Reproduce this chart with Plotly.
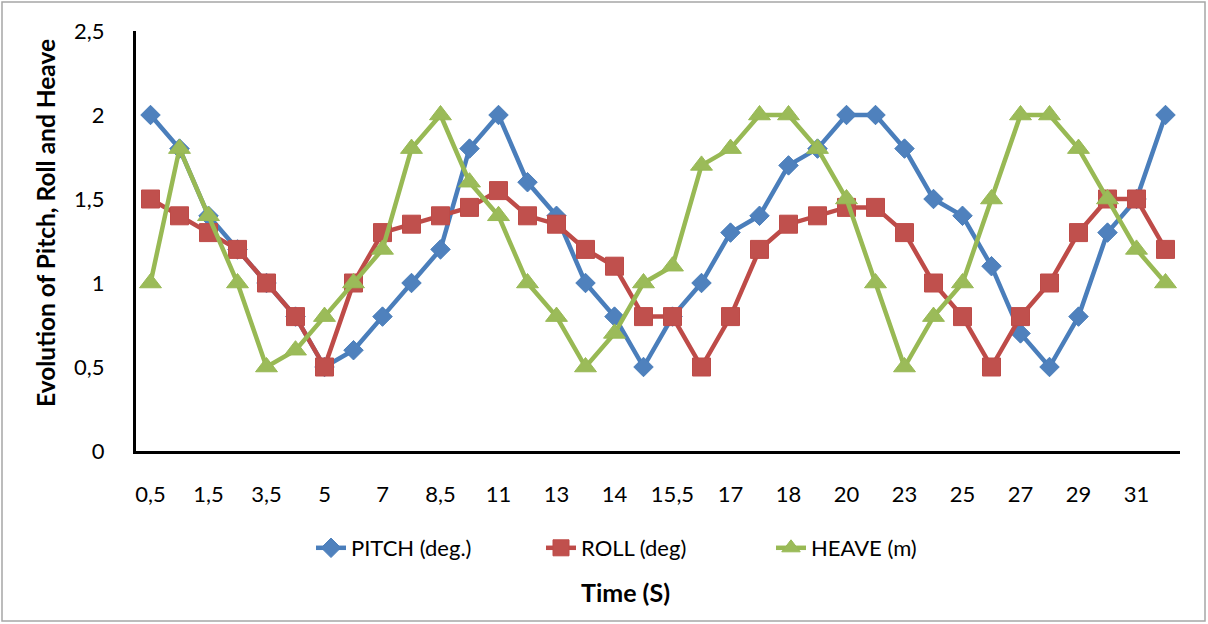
import plotly.graph_objects as go

# Time categories (only every other label is displayed on the axis)
time_labels = ["0,5", "1", "1,5", "2,5", "3,5", "4", "5", "6", "7", "7,5",
               "8,5", "10", "11", "12", "13", "13,5", "14", "14,5", "15,5", "16",
               "17", "17,5", "18", "19", "20", "21", "23", "24", "25", "26",
               "27", "28", "29", "30", "31", "32"]

pitch = [2.0, 1.8, 1.4, 1.2, 1.0, 0.8, 0.5, 0.6, 0.8, 1.0,
         1.2, 1.8, 2.0, 1.6, 1.4, 1.0, 0.8, 0.5, 0.8, 1.0,
         1.3, 1.4, 1.7, 1.8, 2.0, 2.0, 1.8, 1.5, 1.4, 1.1,
         0.7, 0.5, 0.8, 1.3, 1.5, 2.0]

roll = [1.5, 1.4, 1.3, 1.2, 1.0, 0.8, 0.5, 1.0, 1.3, 1.35,
        1.4, 1.45, 1.55, 1.4, 1.35, 1.2, 1.1, 0.8, 0.8, 0.5,
        0.8, 1.2, 1.35, 1.4, 1.45, 1.45, 1.3, 1.0, 0.8, 0.5,
        0.8, 1.0, 1.3, 1.5, 1.5, 1.2]

heave = [1.0, 1.8, 1.4, 1.0, 0.5, 0.6, 0.8, 1.0, 1.2, 1.8,
         2.0, 1.6, 1.4, 1.0, 0.8, 0.5, 0.7, 1.0, 1.1, 1.7,
         1.8, 2.0, 2.0, 1.8, 1.5, 1.0, 0.5, 0.8, 1.0, 1.5,
         2.0, 2.0, 1.8, 1.5, 1.2, 1.0]

y_ticks = [0, 0.5, 1, 1.5, 2, 2.5]
y_ticktext = ["0", "0,5", "1", "1,5", "2", "2,5"]

FONT = "Lato, Liberation Sans, sans-serif"
W, H = 1208, 624
ML, MR, MT, MB = 136, 28, 31, 173
PW, PH = W - ML - MR, H - MT - MB


def px_x(p):
    return (p - ML) / PW


def px_y(p):
    return (H - MB - p) / PH


fig = go.Figure()
fig.add_trace(go.Scatter(
    x=time_labels, y=pitch, name="PITCH (deg.)", mode="lines+markers",
    line=dict(color="#4A7EBB", width=4.5),
    marker=dict(symbol="diamond", size=15, color="#4F81BD",
                line=dict(color="#4A7EBB", width=1))))
fig.add_trace(go.Scatter(
    x=time_labels, y=roll, name="ROLL (deg)", mode="lines+markers",
    line=dict(color="#BE4B48", width=4.5),
    marker=dict(symbol="square", size=18, color="#C0504D",
                line=dict(color="#BE4B48", width=1))))
fig.add_trace(go.Scatter(
    x=time_labels, y=heave, name="HEAVE (m)", mode="lines+markers",
    line=dict(color="#98B954", width=4.5),
    marker=dict(symbol="triangle-up", size=19, color="#9BBB59",
                line=dict(color="#98B954", width=1))))

fig.update_layout(
    width=W, height=H,
    margin=dict(l=ML, r=MR, t=MT, b=MB),
    paper_bgcolor="white", plot_bgcolor="white",
    font=dict(family=FONT, size=22, color="black"),
    showlegend=True,
    legend=dict(orientation="h", x=px_x(656), xanchor="center",
                y=px_y(548), yanchor="middle", font=dict(size=22),
                entrywidth=185, entrywidthmode="pixels",
                traceorder="normal"),
    xaxis=dict(type="category", categoryorder="array", categoryarray=time_labels,
               tickmode="array", tickvals=time_labels[::2], ticktext=time_labels[::2],
               showgrid=False, showline=True, linecolor="black", linewidth=3,
               ticks="", ticklabelstandoff=22, zeroline=False,
               range=[-0.5, len(time_labels) - 0.5]),
    yaxis=dict(range=[0, 2.5], tickmode="array", tickvals=y_ticks, ticktext=y_ticktext,
               showgrid=False, showline=True, linecolor="black", linewidth=3,
               ticks="", ticklabelstandoff=24, zeroline=False),
    annotations=[
        dict(text="<b>Time (S)</b>", x=px_x(625), y=px_y(592), xref="paper", yref="paper",
             xanchor="center", yanchor="middle",
             showarrow=False, font=dict(size=25, family=FONT)),
        dict(text="<b>Evolution of Pitch, Roll and Heave</b>", textangle=-90,
             x=px_x(45), y=px_y(223), xref="paper", yref="paper",
             xanchor="center", yanchor="middle",
             showarrow=False, font=dict(size=24.5, family=FONT)),
    ],
    shapes=[dict(type="rect", xref="paper", yref="paper",
                 x0=px_x(2), x1=px_x(1205), y0=px_y(621), y1=px_y(2),
                 line=dict(color="#A6A6A6", width=1.5), fillcolor="rgba(0,0,0,0)",
                 layer="below")],
)

fig.write_html("out.html", config={"displayModeBar": False},
               post_script="document.body.style.margin='0';")
